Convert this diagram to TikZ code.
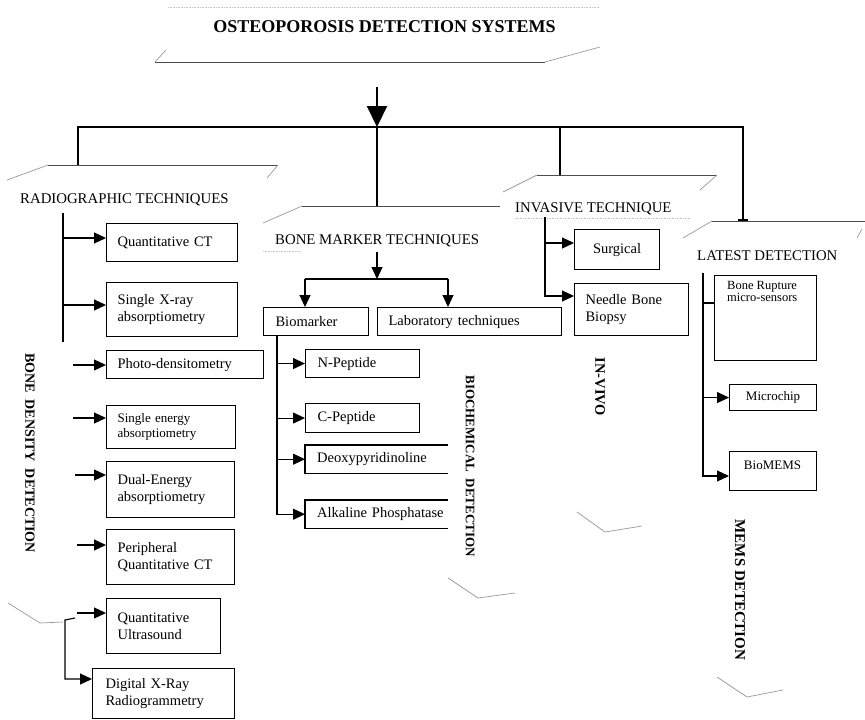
\documentclass[tikz,border=0pt]{standalone}
\usepackage{fontspec}
\setmainfont{Liberation Serif}
\usetikzlibrary{arrows.meta}
\newcommand{\fsz}[2]{\fontsize{#1pt}{#2pt}\selectfont}
\begin{document}
\begin{tikzpicture}[x=1pt,y=-1pt,
  box/.style={draw, line width=1.1pt, anchor=north west, inner xsep=11pt, inner ysep=0pt, align=left, font=\fsz{14.5}{16.5}},
  obox/.style={anchor=north west, inner xsep=12pt, inner ysep=0pt, align=left, font=\fsz{14.5}{16.5}},
  arr/.style={-{Triangle[length=12pt,width=11pt]}, line width=1.1pt},
  ln/.style={line width=1.1pt},
  pg/.style={draw=gray!80, line width=0.7pt},
  pgt/.style={draw=black!70, line width=0.9pt},
  faint/.style={draw=gray!45, line width=0.6pt, densely dotted},
  head/.style={font=\fsz{14.8}{17}, anchor=base west, inner sep=0pt},
  vtxt/.style={font=\bfseries\fsz{14}{16}, rotate=-90, inner sep=0pt},
]
\useasboundingbox (0,0) rectangle (865,720);

% title
\node[font=\bfseries\fsz{18}{20}, anchor=base, inner sep=0pt] (title) at (384.5,32) {OSTEOPOROSIS DETECTION SYSTEMS};
\draw[faint] (168,7) -- (600,7);
\draw[pg] (166,50) -- (155,62);
\draw[pgt] (155,62) -- (545,62);
\draw[pg] (545,62) -- (600,47);

% main arrow and bus
\coordinate (a0) at (377,87);
\coordinate (a1) at (377,127);
\draw[-{Triangle[length=21pt,width=20pt]}, line width=2.2pt] (a0) -- (a1);
\draw[line width=1.2pt] (78,165) -- (78,127) -- (743,127) -- (743,220);
\draw[line width=1.2pt] (a1) -- (377,206);
\draw[line width=1.2pt] (560,127) -- (560,175);
\draw[line width=2pt] (738,220) -- (748,220);

% category parallelograms
\draw[pg] (7,180) -- (48,165);
\draw[pgt] (48,165) -- (278,165);
\draw[pg] (278,165) -- (267,178);
\draw[pg] (263,223) -- (302,206);
\draw[pgt] (302,206) -- (500,206);
\draw[faint] (263,251) -- (300,251);
\draw[pg] (503,192) -- (537,175);
\draw[pgt] (537,175) -- (717,175);
\draw[pg] (717,175) -- (700,190);
\draw[faint] (515,218) -- (690,218);
\draw[pg] (683,238) -- (712,221);
\draw[pgt] (712,221) -- (865,221);
\draw[pg] (857,238) -- (862,229);

% headings
\node[head] (rad) at (20,203) {RADIOGRAPHIC TECHNIQUES};
\node[head] (bmt) at (275,244) {BONE MARKER TECHNIQUES};
\node[head] (inv) at (515,212) {INVASIVE TECHNIQUE};
\node[head] (lat) at (697,260) {LATEST DETECTION};

% vertical labels
\node[vtxt] (bdd) at (30,453) {BONE\ \ DENSITY\ \ DETECTION};
\node[vtxt, font=\bfseries\fsz{13}{15}] (bcd) at (470,466) {BIOCHEMICAL\ \ DETECTION};
\node[vtxt, font=\bfseries\fsz{14.5}{16}] (ivv) at (600,387) {IN-VIVO};
\node[vtxt, font=\bfseries\fsz{15}{17}] (mems) at (740,590) {MEMS DETECTION};

% radiographic boxes
\node[box, text width=109pt, minimum height=38pt] (qct) at (106,223) {Quantitative CT};
\node[box, text width=109pt, minimum height=54pt] (sxa) at (106,282) {Single X-ray\\absorptiometry};
\node[box, text width=135pt, minimum height=28pt] (pd) at (106,350) {Photo-densitometry};
\node[box, text width=107pt, minimum height=43pt, font=\fsz{13}{15}] (sea) at (106,405) {Single energy\\absorptiometry};
\node[box, text width=106pt, minimum height=56pt] (dea) at (106,461) {Dual-Energy\\absorptiometry};
\node[box, text width=106pt, minimum height=55pt] (pqct) at (106,529) {Peripheral\\Quantitative CT};
\node[box, text width=92pt, minimum height=55pt] (qus) at (106,598) {Quantitative\\Ultrasound};
\node[box, inner xsep=13pt, text width=116pt, minimum height=50pt] (dxr) at (92,668) {Digital X-Ray\\Radiogrammetry};

\coordinate (rt) at (63,213);
\coordinate (rb) at (63,342);
\draw[ln] (rt) -- (rb);
\draw[arr] (rt |- 0,238) -- (qct.west |- 0,238);
\draw[arr] (rt |- 0,305) -- (sxa.west |- 0,305);
\coordinate (s1) at (73,365);
\coordinate (s2) at (73,418);
\coordinate (s3) at (75,475);
\coordinate (s4) at (77,545);
\coordinate (s5) at (77,613);
\draw[arr] (s1) -- (pd.west |- s1);
\draw[arr] (s2) -- (sea.west |- s2);
\draw[arr] (s3) -- (dea.west |- s3);
\draw[arr] (s4) -- (pqct.west |- s4);
\draw[arr] (s5) -- (qus.west |- s5);
\coordinate (q1) at (75,618);
\coordinate (q2) at (65,620);
\draw[arr] (q1) -- (q2) -- (q2 |- 0,679) -- (dxr.west |- 0,679);

% bone marker
\node[box, inner xsep=12pt, text width=81pt, minimum height=28pt] (bio) at (263,307) {Biomarker};
\node[box, text width=162pt, minimum height=28pt] (lab) at (377,307) {\mbox{Laboratory techniques}};
\node[box, inner xsep=12pt, text width=90pt, minimum height=28pt] (np) at (305,349) {N-Peptide};
\node[box, inner xsep=12pt, text width=90pt, minimum height=29pt] (cp) at (305,403) {C-Peptide};
\node[obox, text width=119pt, minimum height=28pt] (dp) at (305,445) {\mbox{Deoxypyridinoline}};
\node[obox, text width=119pt, minimum height=28pt] (ap) at (305,500) {\mbox{Alkaline Phosphatase}};
\draw[ln] (dp.north east) -- (dp.north west) -- (dp.south west) -- (dp.south east);
\draw[ln] (ap.north east) -- (ap.north west) -- (ap.south west) -- (ap.south east);

\coordinate (bmA) at (377,252);
\coordinate (bmB) at (377,279);
\draw[arr] (bmA) -- (bmB);
\coordinate (hl) at (305,279);
\coordinate (hr) at (448,279);
\draw[ln] (hl) -- (hr);
\draw[arr] (hl) -- (hl |- bio.north);
\draw[arr] (hr) -- (hr |- lab.north);

\coordinate (bl) at (277,335);
\draw[arr] (bl) -- (bl |- ap.west) -- (ap.west);
\draw[arr] (bl |- np.west) -- (np.west);
\draw[arr] (bl |- cp.west) -- (cp.west);
\draw[arr] (bl |- dp.west) -- (dp.west);

% invasive
\node[box, align=center, text width=63pt, minimum height=40pt] (sg) at (574,229) {Surgical};
\node[box, text width=92pt, minimum height=52pt] (nb) at (574,283) {Needle Bone\\Biopsy};
\coordinate (iv) at (545,217);
\draw[arr] (iv) -- (iv |- 0,296) -- (nb.west |- 0,296);
\draw[arr] (iv |- 0,243) -- (sg.west |- 0,243);

% latest
\node[box, minimum width=102pt, minimum height=85pt] (br) at (714,275) {};
\node[font=\fsz{12.5}{12.5}, align=left, anchor=north west, inner sep=0pt] (brt) at (727,281) {Bone Rupture\\micro-sensors};
\node[box, align=center, text width=65pt, minimum height=26pt, font=\fsz{13}{15}] (mc) at (729,384) {Microchip};
\node[box, minimum width=87pt, minimum height=39pt] (bm) at (729,451) {};
\node[font=\fsz{13}{15}, inner sep=0pt] (bmt2) at (772.5,465) {BioMEMS};
\coordinate (lt) at (703,273);
\draw[arr] (lt) -- (lt |- 0,476) -- (bm.west |- 0,476);
\draw[ln] (lt |- 0,303) -- (br.west |- 0,303);
\draw[arr] (lt |- mc.west) -- (mc.west);

% scan strokes
\draw[pg] (8,603) -- (40,623) -- (63,622);
\draw[pg] (448,578) -- (478,598) -- (515,593);
\draw[pg] (577,512) -- (605,532) -- (642,526);
\draw[pg] (717,677) -- (747,697) -- (783,690);
\end{tikzpicture}
\end{document}
